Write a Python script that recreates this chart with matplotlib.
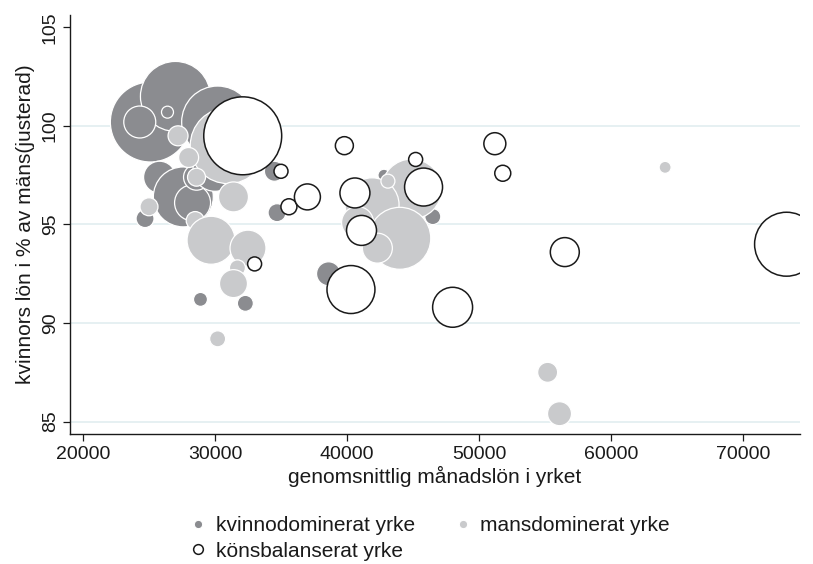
import matplotlib
matplotlib.use("Agg")
import matplotlib.pyplot as plt
from matplotlib.lines import Line2D

plt.rcParams['font.family'] = ['Liberation Sans', 'DejaVu Sans']

# Kvinnodominerade yrken
kvinno_lon = [25100, 27000, 30200, 24300, 26400, 25800, 27600, 28300, 28600, 30000,
              24700, 28900, 32300, 34500, 34700, 38600, 46500, 42800]
kvinno_kvot = [100.2, 101.5, 100.2, 100.2, 100.7, 97.4, 96.4, 96.1, 97.4, 97.8,
               95.3, 91.2, 91.0, 97.7, 95.6, 92.5, 95.4, 97.5]
kvinno_antal = [1600, 1225, 1296, 256, 36, 256, 900, 324, 169, 484,
                81, 49, 64, 100, 81, 144, 64, 36]

# Mansdominerade yrken
mans_lon = [31000, 27200, 28000, 28600, 31400, 25000, 28500, 29700, 32500, 31700,
            31400, 30200, 44900, 41900, 44000, 42300, 43100, 40800, 64100, 55200, 56100]
mans_kvot = [99.0, 99.5, 98.4, 97.4, 96.4, 95.9, 95.2, 94.2, 93.8, 92.8,
             92.0, 89.2, 96.8, 96.0, 94.3, 93.8, 97.2, 95.1, 97.9, 87.5, 85.4]
mans_antal = [1444, 100, 100, 81, 225, 81, 81, 576, 324, 64,
              196, 64, 900, 729, 961, 225, 49, 256, 36, 100, 144]

# Könsbalanserade yrken
bal_lon = [32100, 35000, 35600, 37000, 33000, 39800, 45200, 40600, 45800, 41100,
           40300, 48000, 51200, 51800, 56500, 73300]
bal_kvot = [99.5, 97.7, 95.9, 96.4, 93.0, 99.0, 98.3, 96.6, 96.9, 94.7,
            91.7, 90.8, 99.1, 97.6, 93.6, 94.0]
bal_antal = [1521, 49, 64, 169, 49, 81, 49, 225, 361, 225,
             576, 400, 121, 64, 210, 1024]

serie_namn = ["kvinnodominerat yrke", "mansdominerat yrke", "könsbalanserat yrke"]
x_ticks = [20000, 30000, 40000, 50000, 60000, 70000]
y_ticks = [85, 90, 95, 100, 105]

size_scale = 2.07
dark = "#8b8c90"
light = "#c9cacc"
text_col = "#1a1a1a"

fig = plt.figure(figsize=(8.13, 5.64), dpi=100)
ax = fig.add_axes([70 / 813, 1 - 434 / 564, 730 / 813, 419 / 564])

for g in [85, 90, 95, 100]:
    ax.axhline(g, color="#e2eef0", lw=1.2, zorder=0)

ax.scatter(kvinno_lon, kvinno_kvot, s=[a * size_scale for a in kvinno_antal],
           c=dark, edgecolors="white", linewidths=0.9, zorder=2)
ax.scatter(mans_lon, mans_kvot, s=[a * size_scale for a in mans_antal],
           c=light, edgecolors="white", linewidths=0.9, zorder=3)
ax.scatter(bal_lon, bal_kvot, s=[a * size_scale for a in bal_antal],
           c="white", edgecolors="#1a1a1a", linewidths=1.1, zorder=4)

ax.set_xlim(19015, 74318)
ax.set_ylim(84.37, 105.63)
ax.set_xticks(x_ticks)
ax.set_xticklabels([str(v) for v in x_ticks])
ax.set_yticks(y_ticks)
ax.set_yticklabels([str(v) for v in y_ticks], rotation=90, va="center")

for side in ["top", "right"]:
    ax.spines[side].set_visible(False)
for side in ["left", "bottom"]:
    ax.spines[side].set_color(text_col)
    ax.spines[side].set_linewidth(1.0)

ax.tick_params(axis="both", colors=text_col, labelsize=14, length=5, width=0.9)
ax.tick_params(axis="y", pad=3)
ax.set_xlabel("genomsnittlig månadslön i yrket", fontsize=15, color=text_col, labelpad=2)
ax.set_ylabel("kvinnors lön i % av mäns(justerad)", fontsize=15, color=text_col, labelpad=5)

handles = [
    Line2D([], [], ls="none", marker="o", markersize=6, markerfacecolor=dark,
           markeredgecolor="white", markeredgewidth=0.8),
    Line2D([], [], ls="none", marker="o", markersize=7, markerfacecolor="white",
           markeredgecolor="#1a1a1a", markeredgewidth=1.1),
    Line2D([], [], ls="none", marker="o", markersize=6, markerfacecolor=light,
           markeredgecolor="white", markeredgewidth=0.8),
]
labels = [serie_namn[0], serie_namn[2], serie_namn[1]]
fig.legend(handles, labels, ncol=2, loc="upper center", bbox_to_anchor=(0.5275, 0.118),
           frameon=False, fontsize=15, handletextpad=0.35, columnspacing=1.78,
           labelspacing=0.31, handlelength=1.0, labelcolor=text_col)

fig.savefig("out.png", dpi=100, facecolor="white")
